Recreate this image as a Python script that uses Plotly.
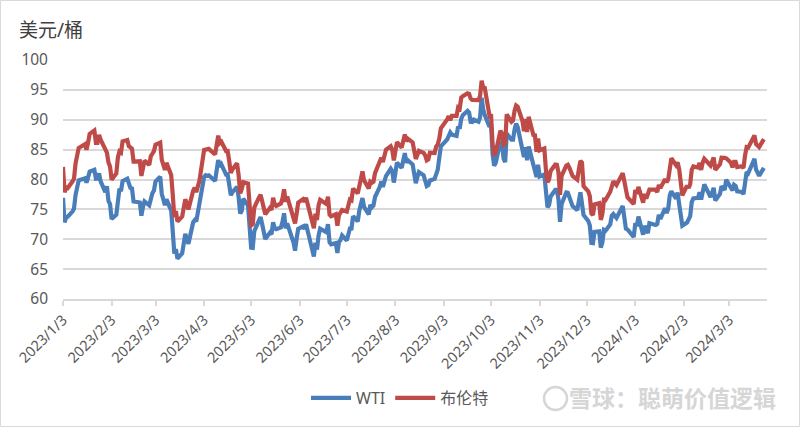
import plotly.graph_objects as go

# Trading days per month (day-of-month)
trade_days = {
    "2023-01": [3, 4, 5, 6, 9, 10, 11, 12, 13, 17, 18, 19, 20, 23, 24, 25, 26, 27, 30, 31],
    "2023-02": [1, 2, 3, 6, 7, 8, 9, 10, 13, 14, 15, 16, 17, 21, 22, 23, 24, 27, 28],
    "2023-03": [1, 2, 3, 6, 7, 8, 9, 10, 13, 14, 15, 16, 17, 20, 21, 22, 23, 24, 27, 28, 29, 30, 31],
    "2023-04": [3, 4, 5, 6, 10, 11, 12, 13, 14, 17, 18, 19, 20, 21, 24, 25, 26, 27, 28],
    "2023-05": [1, 2, 3, 4, 5, 8, 9, 10, 11, 12, 15, 16, 17, 18, 19, 22, 23, 24, 25, 26, 30, 31],
    "2023-06": [1, 2, 5, 6, 7, 8, 9, 12, 13, 14, 15, 16, 20, 21, 22, 23, 26, 27, 28, 29, 30],
    "2023-07": [3, 5, 6, 7, 10, 11, 12, 13, 14, 17, 18, 19, 20, 21, 24, 25, 26, 27, 28, 31],
    "2023-08": [1, 2, 3, 4, 7, 8, 9, 10, 11, 14, 15, 16, 17, 18, 21, 22, 23, 24, 25, 28, 29, 30, 31],
    "2023-09": [1, 5, 6, 7, 8, 11, 12, 13, 14, 15, 18, 19, 20, 21, 22, 25, 26, 27, 28, 29],
    "2023-10": [2, 3, 4, 5, 6, 9, 10, 11, 12, 13, 16, 17, 18, 19, 20, 23, 24, 25, 26, 27, 30, 31],
    "2023-11": [1, 2, 3, 6, 7, 8, 9, 10, 13, 14, 15, 16, 17, 20, 21, 22, 24, 27, 28, 29, 30],
    "2023-12": [1, 4, 5, 6, 7, 8, 11, 12, 13, 14, 15, 18, 19, 20, 21, 22, 26, 27, 28, 29],
    "2024-01": [2, 3, 4, 5, 8, 9, 10, 11, 12, 16, 17, 18, 19, 22, 23, 24, 25, 26, 29, 30, 31],
    "2024-02": [1, 2, 5, 6, 7, 8, 9, 12, 13, 14, 15, 16, 20, 21, 22, 23, 26, 27, 28, 29],
    "2024-03": [1, 4, 5, 6, 7, 8, 11, 12, 13, 14, 15, 18, 19, 20, 21, 22, 25],
}

wti = [
    76.93, 72.84, 73.67, 73.77, 74.63, 75.12, 77.41, 78.39, 79.86, 80.18, 79.48, 80.33, 81.31, 81.62, 80.13, 80.15, 81.01, 79.68, 77.90, 78.87,
    76.41, 75.88, 73.39, 74.11, 77.14, 78.47, 78.06, 79.72, 80.14, 79.06, 78.59, 78.49, 76.34, 76.16, 73.95, 75.39, 76.32, 75.68, 77.05,
    77.69, 78.16, 79.68, 80.46, 77.58, 76.66, 75.72, 76.68, 74.80, 71.33, 67.61, 68.35, 66.74, 67.64, 69.33, 70.90, 69.96, 69.26, 72.81, 73.20, 72.97, 74.37, 75.67,
    80.42, 80.71, 80.61, 80.70, 79.74, 81.53, 83.26, 82.16, 82.52, 80.83, 80.86, 79.16, 77.37, 77.87, 78.76, 77.07, 74.30, 74.76, 76.78,
    75.66, 71.66, 68.60, 68.56, 71.34, 73.16, 73.71, 72.56, 70.87, 70.04, 71.11, 70.86, 72.83, 71.86, 71.69, 71.99, 72.91, 74.34, 71.83, 72.67, 69.46, 68.09,
    70.10, 71.74, 72.15, 71.74, 72.53, 71.29, 70.17, 67.12, 69.42, 68.27, 70.62, 71.78, 71.19, 72.53, 69.51, 69.16, 69.37, 67.70, 69.56, 69.86, 70.64,
    69.79, 71.79, 71.80, 73.86, 72.99, 74.83, 75.75, 76.89, 75.42, 74.15, 75.75, 75.35, 75.63, 77.07, 78.74, 79.63, 78.78, 80.09, 80.58, 81.80,
    81.37, 79.49, 81.55, 82.82, 81.94, 82.92, 84.40, 82.82, 83.19, 82.51, 80.99, 79.38, 80.39, 81.25, 80.72, 79.64, 78.89, 79.05, 79.83, 80.10, 81.16, 81.63, 83.63,
    85.55, 86.69, 87.54, 87.87, 87.51, 87.29, 88.84, 88.52, 90.16, 90.77, 91.48, 91.20, 89.66, 89.63, 90.03, 89.68, 90.39, 93.68, 91.71, 90.79,
    88.82, 89.23, 84.22, 82.31, 82.79, 86.38, 85.97, 83.49, 82.91, 87.69, 86.66, 86.66, 88.32, 89.37, 88.75, 85.49, 83.74, 85.39, 83.21, 85.54, 82.31, 81.02,
    80.44, 82.46, 80.51, 80.82, 77.37, 75.33, 75.74, 77.17, 78.26, 78.26, 76.66, 72.90, 75.89, 77.83, 77.77, 77.10, 75.54, 74.86, 76.41, 77.86, 75.96,
    74.07, 73.04, 72.32, 69.38, 69.34, 71.23, 71.32, 68.61, 69.47, 71.58, 71.43, 72.47, 73.94, 74.22, 73.89, 73.56, 75.57, 74.11, 71.77, 71.65,
    70.38, 72.70, 72.19, 73.81, 70.77, 72.24, 71.37, 71.02, 72.68, 72.40, 72.56, 74.08, 73.41, 75.19, 74.37, 75.09, 77.36, 78.01, 76.78, 77.82, 75.85,
    73.82, 72.28, 72.78, 73.31, 73.86, 76.22, 76.84, 76.92, 77.87, 76.64, 78.03, 79.19, 77.04, 77.91, 78.61, 76.49, 77.58, 78.87, 78.54, 78.26,
    79.97, 78.74, 78.15, 79.13, 78.93, 78.01, 77.93, 77.56, 79.72, 81.26, 81.04, 82.72, 83.47, 81.68, 81.07, 80.63, 81.95,
]

brent = [
    82.10, 77.84, 78.69, 78.57, 79.65, 80.10, 82.67, 84.03, 85.28, 85.92, 84.98, 86.16, 87.63, 88.19, 86.13, 86.12, 87.47, 86.66, 84.90, 84.49,
    82.84, 82.17, 79.94, 80.99, 83.69, 84.69, 84.50, 86.39, 86.61, 85.58, 85.38, 85.14, 83.00, 83.05, 80.60, 82.21, 83.16, 82.45, 83.89,
    84.31, 84.75, 85.83, 86.18, 83.29, 82.66, 81.59, 82.78, 80.77, 77.45, 73.69, 74.70, 72.97, 73.79, 75.32, 76.69, 75.91, 74.99, 78.12, 78.65, 77.88, 78.60, 79.77,
    84.93, 84.94, 84.99, 85.12, 84.18, 85.61, 87.33, 86.09, 86.31, 84.76, 84.77, 83.12, 81.10, 81.66, 82.73, 80.77, 77.69, 78.37, 79.54,
    79.31, 75.32, 72.33, 72.50, 75.30, 77.01, 77.44, 76.41, 74.98, 74.17, 75.23, 74.91, 76.96, 75.86, 75.58, 75.99, 76.84, 78.36, 76.26, 77.12, 73.54, 72.66,
    74.28, 76.13, 76.71, 76.29, 76.95, 75.96, 74.79, 71.84, 74.29, 73.20, 75.67, 76.61, 75.90, 77.12, 74.14, 73.85, 74.18, 72.26, 74.03, 74.34, 74.90,
    74.65, 76.65, 76.52, 78.47, 77.69, 79.40, 80.11, 81.36, 79.87, 78.50, 79.63, 79.46, 79.64, 81.07, 82.74, 83.64, 82.92, 84.24, 84.99, 85.56,
    84.91, 83.20, 85.14, 86.24, 85.34, 86.17, 87.55, 86.40, 86.81, 86.21, 84.89, 83.45, 84.12, 84.80, 84.46, 84.03, 83.21, 83.36, 84.48, 84.42, 85.49, 85.86, 86.86,
    88.55, 90.04, 90.60, 89.92, 90.65, 90.64, 92.06, 91.88, 93.70, 93.93, 94.43, 94.34, 93.53, 93.30, 93.27, 93.29, 93.96, 96.55, 95.38, 95.31,
    90.71, 90.92, 85.81, 84.07, 84.58, 88.15, 87.65, 85.82, 86.00, 90.89, 89.65, 89.90, 91.50, 92.38, 92.16, 89.83, 88.07, 90.13, 87.93, 90.48, 87.45, 87.41,
    84.63, 86.85, 84.89, 85.18, 81.61, 79.54, 80.01, 81.43, 82.52, 82.47, 81.18, 77.42, 80.61, 82.32, 82.45, 81.96, 80.58, 79.98, 81.68, 83.10, 82.83,
    78.88, 78.03, 77.20, 74.30, 74.05, 75.84, 76.03, 73.24, 74.26, 76.61, 76.55, 77.95, 79.23, 79.70, 79.39, 79.07, 81.07, 79.65, 78.39, 77.04,
    75.89, 78.25, 77.59, 78.76, 76.12, 77.59, 76.80, 77.41, 78.29, 78.29, 77.88, 79.10, 78.56, 80.06, 79.55, 80.04, 82.43, 83.55, 82.40, 82.87, 81.71,
    78.70, 77.33, 78.99, 78.59, 79.21, 81.63, 82.19, 82.00, 82.77, 81.60, 82.86, 83.47, 82.34, 83.03, 83.67, 81.62, 82.53, 83.65, 83.68, 83.62,
    83.55, 82.80, 82.04, 82.96, 82.96, 82.08, 82.21, 81.92, 84.03, 85.42, 85.34, 86.89, 87.38, 85.95, 85.78, 85.43, 86.75,
]

tick_dates = ["2023-01-03", "2023-02-03", "2023-03-03", "2023-04-03", "2023-05-03", "2023-06-03",
              "2023-07-03", "2023-08-03", "2023-09-03", "2023-10-03", "2023-11-03", "2023-12-03",
              "2024-01-03", "2024-02-03", "2024-03-03"]
tick_labels = ["2023/1/3", "2023/2/3", "2023/3/3", "2023/4/3", "2023/5/3", "2023/6/3",
               "2023/7/3", "2023/8/3", "2023/9/3", "2023/10/3", "2023/11/3", "2023/12/3",
               "2024/1/3", "2024/2/3", "2024/3/3"]

series_names = ["WTI", "布伦特"]
y_title = "美元/桶"
watermark = "雪球：聪萌价值逻辑"

dates = [f"{m}-{d:02d}" for m, days in trade_days.items() for d in days]

FONT = "Noto Sans, Noto Sans CJK SC, sans-serif"
GRID = "#d9d9d9"

fig = go.Figure()
fig.add_trace(go.Scatter(x=dates, y=wti, mode="lines", name=series_names[0],
                         line=dict(color="#4A7EBB", width=4.2)))
fig.add_trace(go.Scatter(x=dates, y=brent, mode="lines", name=series_names[1],
                         line=dict(color="#BE4B48", width=4.2)))

L, R, T, B = 63, 33, 60, 128
W, H = 800, 427
pw, ph = W - L - R, H - T - B

fig.update_layout(
    width=W, height=H,
    margin=dict(l=L, r=R, t=T, b=B),
    paper_bgcolor="white", plot_bgcolor="white",
    font=dict(family=FONT, color="#595959", size=15),
    showlegend=True,
    legend=dict(orientation="h", x=(400 - L) / pw, xanchor="center",
                y=(T + ph - 398) / ph, yanchor="middle",
                font=dict(size=16, color="#595959"), itemwidth=40,
                bgcolor="rgba(0,0,0,0)"),
    xaxis=dict(type="date", range=["2023-01-03", "2024-03-27"],
               tickvals=tick_dates, ticktext=tick_labels, tickangle=-45,
               tickfont=dict(size=14.5, color="#595959"),
               showgrid=False, showline=True, linecolor=GRID, linewidth=1.5,
               ticks="outside", ticklen=5, tickcolor=GRID, tickwidth=1.5,
               zeroline=False),
    yaxis=dict(range=[60, 100], tickvals=[60, 65, 70, 75, 80, 85, 90, 95, 100],
               showgrid=True, gridcolor=GRID, gridwidth=1.5, zeroline=False,
               showline=False, ticks="", tickfont=dict(size=15.5, color="#595959"),
               ticklabelstandoff=14),
    annotations=[
        dict(text=y_title, xref="paper", yref="paper", x=-46 / pw, y=(T + ph - 30) / ph,
             xanchor="left", yanchor="middle", showarrow=False,
             font=dict(size=19, color="#404040", family=FONT)),
        dict(text="<b>" + watermark + "</b>", xref="paper", yref="paper", x=(778 - L) / pw,
             y=(T + ph - 398) / ph,
             xanchor="right", yanchor="middle", showarrow=False,
             font=dict(size=23, color="#d6d6d6", family=FONT)),
    ],
    shapes=[
        dict(type="rect", xref="paper", yref="paper",
             x0=-(L - 0.5) / pw, x1=(W - L - 0.5) / pw,
             y0=-(B - 0.5) / ph, y1=(ph + T - 0.5) / ph,
             line=dict(color=GRID, width=1), fillcolor="rgba(0,0,0,0)", layer="below"),
        dict(type="circle", xref="paper", yref="paper",
             x0=(544 - L) / pw, x1=(567 - L) / pw,
             y0=(T + ph - 410) / ph, y1=(T + ph - 387) / ph,
             line=dict(color="#d6d6d6", width=2.5), fillcolor="rgba(0,0,0,0)"),
    ],
)

fig.write_html("out.html")
